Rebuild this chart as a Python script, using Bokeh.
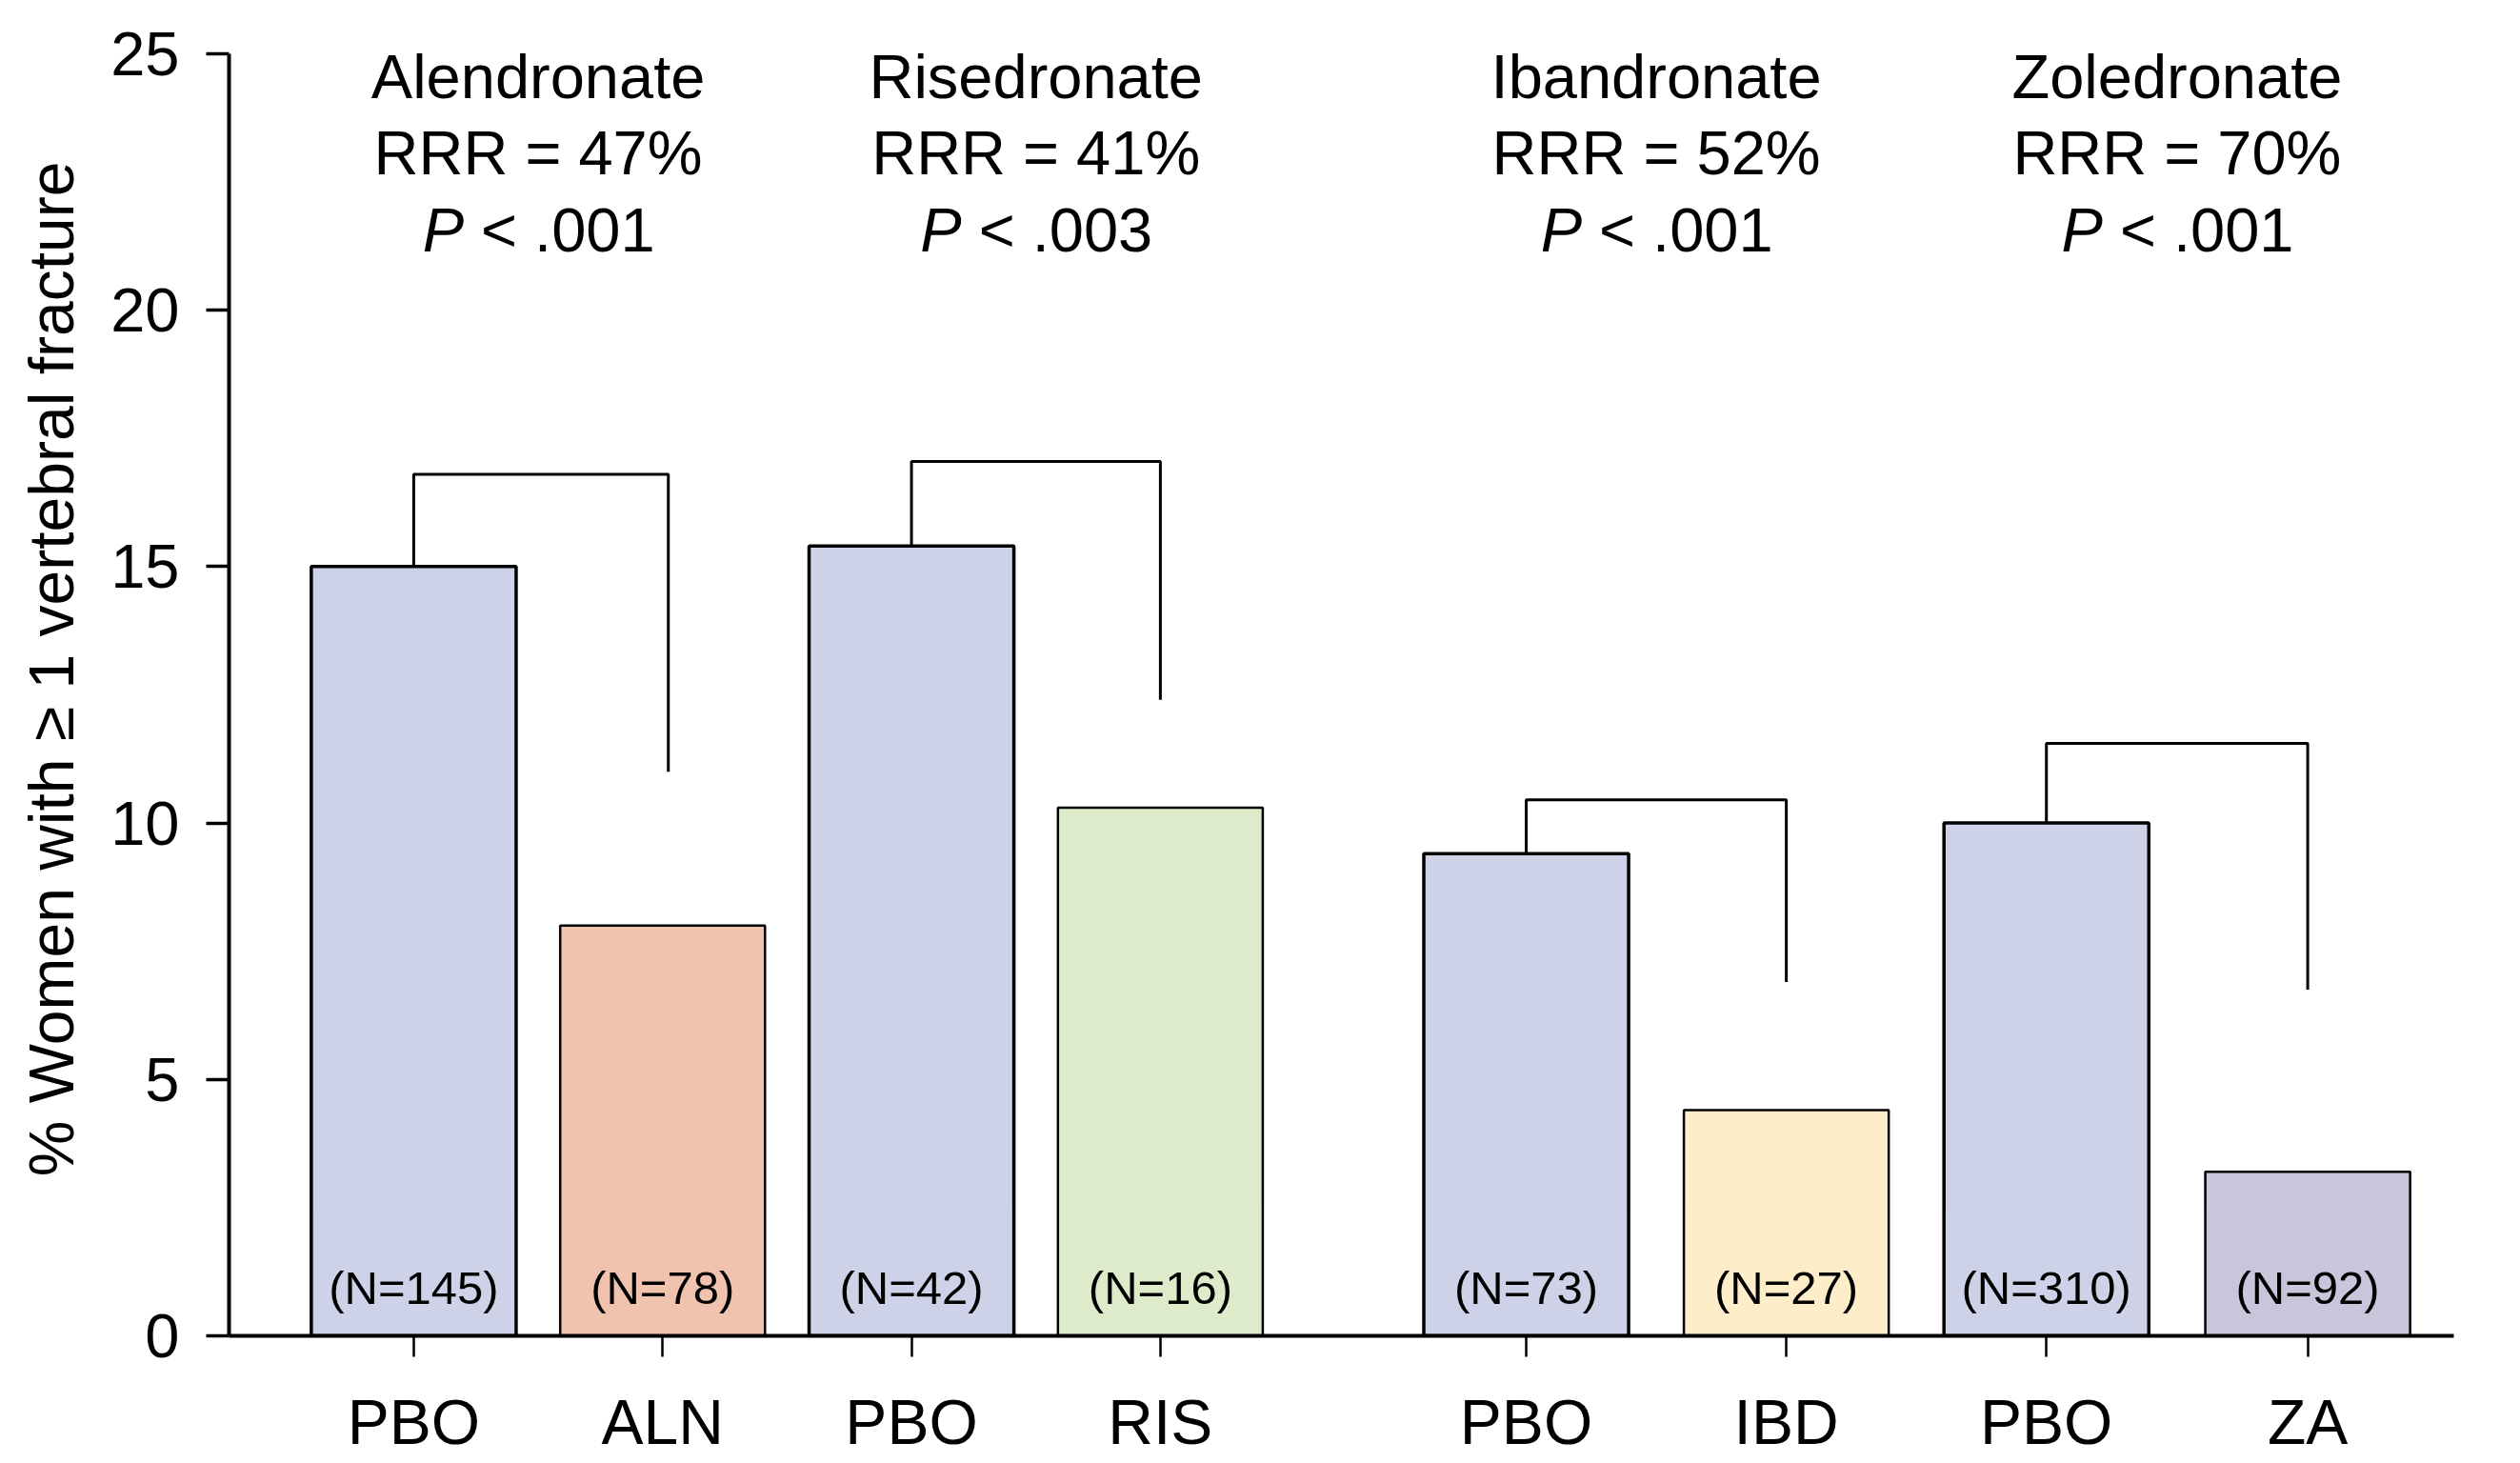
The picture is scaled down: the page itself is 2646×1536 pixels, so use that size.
from bokeh.plotting import figure
from bokeh.models import ColumnDataSource, Range1d, FixedTicker
from bokeh.core.properties import value
from bokeh.embed import file_html
from bokeh.resources import INLINE

# Percentage of women with >= 1 new vertebral fracture, per trial arm
arms = ["PBO", "ALN", "PBO", "RIS", "PBO", "IBD", "PBO", "ZA"]
pct_fracture = [15.0, 8.0, 15.4, 10.3, 9.4, 4.4, 10.0, 3.2]
n_women = [145, 78, 42, 16, 73, 27, 310, 92]

# One comparison per drug (placebo arm vs. treated arm)
drugs = ["Alendronate", "Risedronate", "Ibandronate", "Zoledronate"]
rrr = [47, 41, 52, 70]
p_values = [".001", ".003", ".001", ".001"]
bracket_top = [16.8, 17.05, 10.45, 11.55]
bracket_end = [11.0, 12.4, 6.9, 6.75]

# Layout / styling
FONT = "Liberation Sans"
slots = [0, 1, 2, 3, 4.47, 5.515, 6.56, 7.61]
BAR_W = 0.823
fills = ["#CDD2E8", "#F0C3AF", "#CDD2E8", "#DEEBCA",
         "#CDD2E8", "#FDEDC8", "#CDD2E8", "#C8C6DA"]
edge_w = [3.5 if a == "PBO" else 2.5 for a in arms]
bracket_shift = [0.023, 0, 0, 0]

p = figure(width=2646, height=1536, output_backend="svg", toolbar_location=None,
           x_range=Range1d(-0.742, 8.197), y_range=Range1d(0, 26),
           min_border_left=240, min_border_right=70,
           min_border_top=2, min_border_bottom=134)
p.outline_line_color = None
p.xgrid.visible = False
p.ygrid.visible = False
p.background_fill_color = "white"
p.border_fill_color = "white"

bars = ColumnDataSource(dict(
    x=slots, top=pct_fracture, fill=fills, lw=edge_w,
    nlab=[f"(N={n})" for n in n_women],
))
p.vbar(x="x", top="top", bottom=0, width=BAR_W, source=bars,
       fill_color="fill", line_color="black", line_width="lw")

p.text(x="x", y=0.93, text="nlab", source=bars,
       text_font=value(FONT), text_font_size=value("49px"),
       text_align="center", text_baseline="middle", text_color="black")

# Brackets linking each placebo bar to its treated bar
xs, ys = [], []
for g in range(len(drugs)):
    xl, xr = slots[2 * g], slots[2 * g + 1] + bracket_shift[g]
    xs.append([xl, xl, xr, xr])
    ys.append([pct_fracture[2 * g], bracket_top[g], bracket_top[g], bracket_end[g]])
p.multi_line(xs=xs, ys=ys, line_color="black", line_width=3)

# Drug name, relative risk reduction and P value above each pair
mid = [(slots[2 * g] + slots[2 * g + 1]) / 2 for g in range(len(drugs))]
ann = ColumnDataSource(dict(
    x=mid, name=drugs,
    rrr=[f"RRR = {r}%" for r in rrr],
    pv=[f"< {v}" for v in p_values],
    pl=["P"] * len(drugs),
))
common = dict(source=ann, text_font=value(FONT), text_font_size=value("65px"),
              text_color="black", text_baseline="alphabetic")
p.text(x="x", y=24.56, text="name", text_align="center", **common)
p.text(x="x", y=23.07, text="rrr", text_align="center", **common)
p.text(x="x", y=21.57, text="pl", text_align="right", x_offset=-78,
       text_font_style="italic", **common)
p.text(x="x", y=21.57, text="pv", text_align="left", x_offset=-60, **common)

# Y axis
ya = p.yaxis[0]
ya.ticker = FixedTicker(ticks=[0, 5, 10, 15, 20, 25])
ya.bounds = (0, 25)
ya.axis_label = "% Women with \u2265 1 vertebral fracture"
ya.axis_label_text_font = FONT
ya.axis_label_text_font_size = "66px"
ya.axis_label_text_font_style = "normal"
ya.axis_label_text_color = "black"
ya.axis_label_standoff = 22
ya.major_label_text_font = FONT
ya.major_label_text_font_size = "65px"
ya.major_label_text_color = "black"
ya.major_label_standoff = 28
ya.axis_line_width = 4
ya.axis_line_color = "black"
ya.major_tick_line_width = 3.5
ya.major_tick_line_color = "black"
ya.major_tick_out = 24
ya.major_tick_in = 0
ya.minor_tick_line_color = None

# X axis
xa = p.xaxis[0]
xa.ticker = FixedTicker(ticks=slots)
xa.major_label_overrides = {s: a for s, a in zip(slots, arms)}
xa.major_label_text_font = FONT
xa.major_label_text_font_size = "66px"
xa.major_label_text_color = "black"
xa.major_label_standoff = 31
xa.axis_line_width = 4
xa.axis_line_color = "black"
xa.major_tick_line_width = 2.5
xa.major_tick_line_color = "black"
xa.major_tick_out = 22
xa.major_tick_in = 0
xa.minor_tick_line_color = None

open("out.html", "w").write(file_html(p, INLINE))
